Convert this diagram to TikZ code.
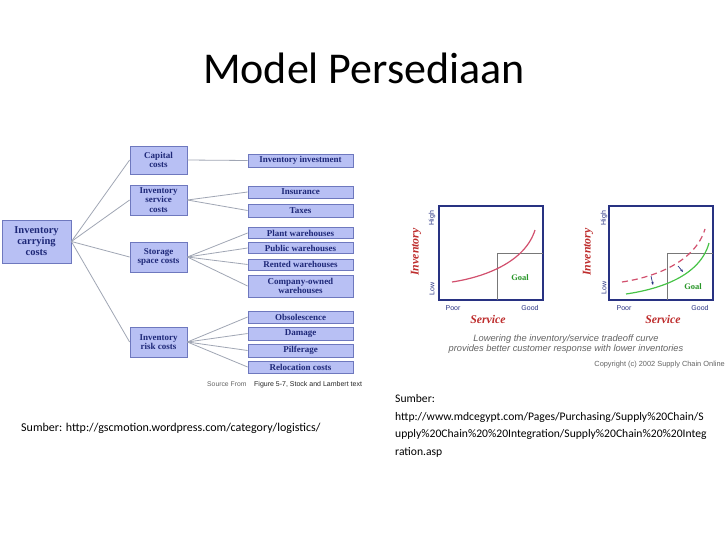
\documentclass[tikz,border=0pt]{standalone}
\usepackage{fontspec}
\setmainfont{Carlito}
\newfontfamily\tnr{Liberation Serif}
\newfontfamily\arl{Liberation Sans}
\usetikzlibrary{arrows.meta}
\definecolor{boxfill}{RGB}{184,192,244}
\definecolor{boxline}{RGB}{110,120,190}
\definecolor{navy}{RGB}{30,40,120}
\definecolor{conn}{RGB}{160,166,180}
\definecolor{axis}{RGB}{40,50,130}
\definecolor{redc}{RGB}{210,80,110}
\definecolor{redt}{RGB}{190,45,45}
\definecolor{greenc}{RGB}{70,195,70}
\definecolor{greent}{RGB}{40,150,40}
\definecolor{goalbox}{RGB}{120,120,120}
\definecolor{capgray}{RGB}{100,100,100}
\tikzset{
  cbox/.style={draw=boxline, fill=boxfill, line width=0.8pt, inner sep=0pt,
    align=center, text=navy, font=\tnr\bfseries\fontsize{9}{9.5}\selectfont},
  midbox/.style={cbox, minimum width=57pt},
  leafbox/.style={cbox, minimum width=105pt},
  conline/.style={draw=conn, line width=0.8pt},
  axlbl/.style={text=axis, font=\arl\fontsize{7}{8}\selectfont, inner sep=0pt},
  bigaxl/.style={text=redt, font=\tnr\bfseries\itshape\fontsize{11.8}{13}\selectfont, inner sep=0pt},
  goaltxt/.style={text=greent, font=\tnr\bfseries\fontsize{8.5}{10}\selectfont, inner sep=0pt},
  frame/.style={draw=axis, line width=1.2pt},
  goalfr/.style={draw=goalbox, line width=0.8pt},
  plain/.style={inner sep=0pt, anchor=base west, font=\fontsize{11.6}{13}\selectfont}
}
\begin{document}
\begin{tikzpicture}[x=1pt,y=-1pt]
\useasboundingbox[fill=white] (0,0) rectangle (728,546);
% title
\node[inner sep=0pt, anchor=base, font=\fontsize{44}{52}\selectfont] (title) at (364,83) {Model Persediaan};

% left tree
\node[cbox, minimum width=69pt, minimum height=43pt, font=\tnr\bfseries\fontsize{10.5}{11}\selectfont] (icc) at (36.5,241.5) {Inventory\\carrying\\costs};
\node[midbox, minimum height=28pt] (cap) at (158.5,160) {Capital\\costs};
\node[midbox, minimum height=30pt] (serv) at (158.5,200) {Inventory\\service\\costs};
\node[midbox, minimum height=30pt] (stor) at (158.5,257) {Storage\\space costs};
\node[midbox, minimum height=30pt] (risk) at (158.5,342) {Inventory\\risk costs};

\node[leafbox, minimum height=13pt] (invest) at (300.5,160.5) {Inventory investment};
\node[leafbox, minimum height=12pt] (ins) at (300.5,192) {Insurance};
\node[leafbox, minimum height=13pt] (tax) at (300.5,210.5) {Taxes};
\node[leafbox, minimum height=11pt] (plant) at (300.5,233) {Plant warehouses};
\node[leafbox, minimum height=11pt] (public) at (300.5,248) {Public warehouses};
\node[leafbox, minimum height=11pt] (rented) at (300.5,264.5) {Rented warehouses};
\node[leafbox, minimum height=22pt] (comp) at (300.5,286) {Company-owned\\warehouses};
\node[leafbox, minimum height=12pt] (obs) at (300.5,317) {Obsolescence};
\node[leafbox, minimum height=13pt] (dam) at (300.5,333.5) {Damage};
\node[leafbox, minimum height=13pt] (pil) at (300.5,350.5) {Pilferage};
\node[leafbox, minimum height=12pt] (reloc) at (300.5,367) {Relocation costs};

\foreach \m in {cap,serv,stor,risk} \draw[conline] (icc.east) -- (\m.west);
\draw[conline] (cap.east) -- (invest.west);
\foreach \l in {ins,tax} \draw[conline] (serv.east) -- (\l.west);
\foreach \l in {plant,public,rented,comp} \draw[conline] (stor.east) -- (\l.west);
\foreach \l in {obs,dam,pil,reloc} \draw[conline] (risk.east) -- (\l.west);

\node[inner sep=0pt, anchor=base west, text=capgray, font=\arl\fontsize{6.8}{7}\selectfont] (srcfrom) at (207,386) {Source From};
\node[inner sep=0pt, anchor=base west, text=black!85, font=\arl\fontsize{7}{8}\selectfont] (srcfig) at (254,386) {Figure 5-7, Stock and Lambert text};

% chart 1
\draw[frame] (439,206) rectangle (543,300);
\draw[goalfr] (497,300) -- (497,253) -- (543,253);
\draw[redc, line width=1.2pt] (452,282) .. controls (485,277) and (525,262) .. (535,230);
\node[goaltxt] (goal1) at (520,278) {Goal};
\node[axlbl, rotate=90] (high1) at (432,218) {High};
\node[axlbl, rotate=90] (low1) at (432,289) {Low};
\node[axlbl] (poor1) at (453,308) {Poor};
\node[axlbl] (good1) at (530,308) {Good};
\node[bigaxl, rotate=90] (inv1) at (416,252) {Inventory};
\node[bigaxl] (serv1) at (488,319) {Service};

% chart 2
\draw[frame] (609,206) rectangle (713,300);
\draw[goalfr] (667,300) -- (667,253) -- (713,253);
\draw[redc, line width=1.2pt, dash pattern=on 6pt off 4pt] (622,282) .. controls (655,277) and (695,262) .. (705,229);
\draw[greenc, line width=1.2pt] (626,294) .. controls (660,289) and (700,276) .. (709,243);
\draw[-{Stealth[length=3pt,width=2.5pt]}, axis, line width=0.7pt] (651,276) -- (653,285);
\draw[-{Stealth[length=3pt,width=2.5pt]}, axis, line width=0.7pt] (678,266) -- (683,272);
\node[goaltxt] (goal2) at (693,287) {Goal};
\node[axlbl, rotate=90] (high2) at (604,218) {High};
\node[axlbl, rotate=90] (low2) at (604,288) {Low};
\node[axlbl] (poor2) at (624,308) {Poor};
\node[axlbl] (good2) at (700,308) {Good};
\node[bigaxl, rotate=90] (inv2) at (588,252) {Inventory};
\node[bigaxl] (serv2) at (663,319) {Service};

\node[inner sep=0pt, align=center, text=capgray, font=\arl\itshape\fontsize{9.3}{10.2}\selectfont] (cap2) at (566,344) {Lowering the inventory/service tradeoff curve\\provides better customer response with lower inventories};
\node[inner sep=0pt, anchor=east, text=capgray, font=\arl\fontsize{7.4}{8}\selectfont] (copy) at (725,365) {Copyright (c) 2002 Supply Chain Online};

% sources
\node[plain, font=\fontsize{12}{14}\selectfont] (src1) at (21,431) {Sumber: http://gscmotion.wordpress.com/category/logistics/};
\node[plain] (src2a) at (395,402) {Sumber:};
\node[plain] (src2b) at (395,420) {http://www.mdcegypt.com/Pages/Purchasing/Supply\%20Chain/S};
\node[plain] (src2c) at (395,437.5) {upply\%20Chain\%20\%20Integration/Supply\%20Chain\%20\%20Integ};
\node[plain] (src2d) at (395,455) {ration.asp};
\end{tikzpicture}
\end{document}
